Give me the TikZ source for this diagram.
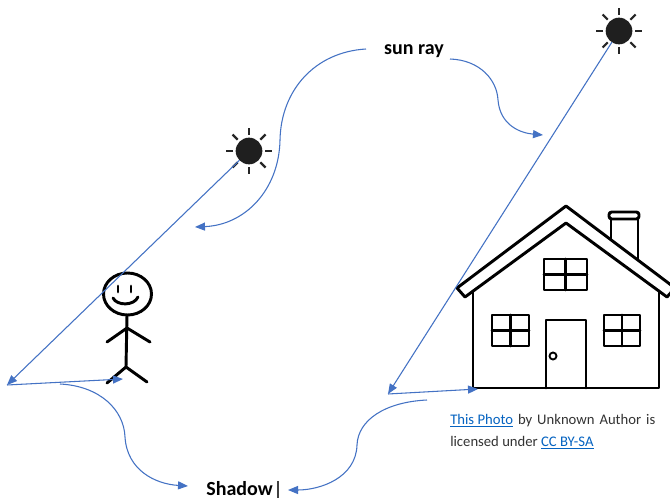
\documentclass[tikz,border=0pt]{standalone}
\usepackage{fontspec}
\setmainfont{Carlito}
\usetikzlibrary{arrows.meta}
\definecolor{rayblue}{HTML}{4472C4}
\definecolor{weblinkblue}{HTML}{0563C1}
\newcommand\weblink[1]{\textcolor{weblinkblue}{\underline{#1}}}
\tikzset{
  sunray/.style={draw=rayblue, line width=0.8pt},
  tipped/.style={-{Triangle[length=7.5pt,width=6pt]}},
  sundisk/.style={circle, fill=black!88, minimum size=20pt, inner sep=0pt, outer sep=0pt},
  sunbeam/.style={draw=black!85, line width=1.6pt},
  ink/.style={draw=black, line width=2.2pt, line join=round, line cap=round},
  caption/.style={font=\fontsize{15}{18}\selectfont\bfseries, inner sep=0pt}
}
\begin{document}
\begin{tikzpicture}[x=0.75pt,y=-0.75pt]
\useasboundingbox[fill=white] (0,0) rectangle (670,499);

% the two suns
\node[sundisk] (sun1) at (249,151) {};
\node[sundisk] (sun2) at (619,31) {};
\foreach \s in {sun1,sun2}
  \foreach \a in {0,45,...,315}
    \draw[sunbeam] ([shift={(\a:2pt)}]\s.\a) -- ([shift={(\a:7.5pt)}]\s.\a);

% labels
\node[caption, anchor=base] (sunlbl) at (414,55) {sun ray};
\node[caption, anchor=base] (shadow) at (239.5,495) {Shadow};
\draw[black!75, line width=0.8pt] (278,481) -- (278,498);

% stick figure
\draw[ink] (127.5,294) ellipse [x radius=24, y radius=21];
\draw[ink] (118,286) -- (118,292);
\draw[ink] (131,286) -- (131,292);
\draw[ink] (113,298) .. controls (117,306) and (134,306) .. (138,297);
\draw[ink] (127,315) -- (126,367);
\draw[ink] (107,342) -- (127,328) -- (150,342);
\draw[ink] (107,383) -- (126,367) -- (147,382);

% house
\draw[ink] (465,297) -- (457,288) -- (566,206) -- (675,288) -- (667,297) -- (566,223) -- cycle;
\draw[ink] (473,291) -- (473,388) -- (659,388) -- (659,291);
\draw[ink, rounded corners=2] (609,212) rectangle (639,219);
\draw[ink] (611,219) -- (611,239.4);
\draw[ink] (638,219) -- (638,259.5);
\draw[ink] (544,259) rectangle (587,290);
\draw[ink] (565.5,259) -- (565.5,290) (544,274.5) -- (587,274.5);
\draw[ink] (492,315) rectangle (529,346);
\draw[ink] (510.5,315) -- (510.5,346) (492,330.5) -- (529,330.5);
\draw[ink] (604,315) rectangle (640,346);
\draw[ink] (622,315) -- (622,346) (604,330.5) -- (640,330.5);
\draw[ink] (546,388) -- (546,320) -- (586,320) -- (586,388);
\draw[line width=1.4pt] (553,356) circle [radius=3.5];

% credit line
\node[anchor=base west, inner sep=0pt] (credit) at (450,414)
  {\parbox[t]{153.75pt}{\fontsize{11}{16.5}\selectfont\color{black!80}%
   \weblink{This Photo} by Unknown Author is\linebreak licensed under \weblink{CC BY-SA}}};

% ray and shadow end points
\coordinate (lblL) at (366,49);
\coordinate (lblR) at (450,59);
\coordinate (tipA) at (195,227);
\coordinate (tipB) at (543,135);
\coordinate (pshadow) at (7,385);
\coordinate (pfoot) at (123,379);
\coordinate (hshadow) at (388,394);
\coordinate (hfoot) at (478,389);
\coordinate (pcurve) at (60,384);
\coordinate (hcurve) at (427,400);
\coordinate (shL) at (188,486);
\coordinate (shR) at (288,490);

% sun rays
\draw[sunray, tipped] (sun1) -- (pshadow);
\draw[sunray, tipped] (sun2) -- (hshadow);
% shadows
\draw[sunray, tipped] (pshadow) -- (pfoot);
\draw[sunray, tipped] (hshadow) -- (hfoot);

% pointers from the labels
\draw[sunray, tipped] (lblL) .. controls (315,52) and (281,90) .. (280,140)
  .. controls (279,190) and (245,225) .. (tipA);
\draw[sunray, tipped] (lblR) .. controls (480,60) and (497,80) .. (498,100)
  .. controls (500,125) and (520,133) .. (tipB);
\draw[sunray, tipped] (pcurve) .. controls (100,386) and (124,410) .. (125,437)
  .. controls (127,470) and (155,484) .. (shL);
\draw[sunray, tipped] (hcurve) .. controls (385,402) and (358,420) .. (357,445)
  .. controls (356,478) and (320,490) .. (shR);
\end{tikzpicture}
\end{document}
